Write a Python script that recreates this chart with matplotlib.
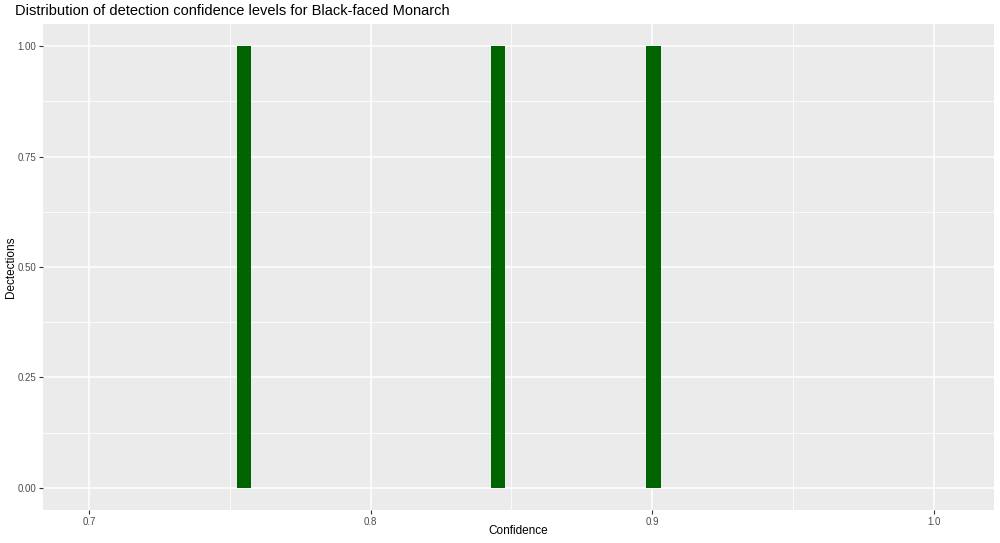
import numpy as np
import matplotlib
matplotlib.use("Agg")
import matplotlib.pyplot as plt
from matplotlib.ticker import MultipleLocator

# confidence values of the detections
confidence = [0.755, 0.845, 0.9005]

x_ticks = [0.7, 0.8, 0.9, 1.0]
y_ticks = [0.0, 0.25, 0.5, 0.75, 1.0]

plt.rcParams['font.family'] = ['Liberation Sans', 'DejaVu Sans']

fig = plt.figure(figsize=(10, 5.43), dpi=100)
ax = fig.add_axes([0.043, 0.0608, 0.951, 0.895])
ax.set_facecolor('#EBEBEB')

# ggplot-like default: 30 bins over data range
n_bins = 30
width = (max(confidence) - min(confidence)) / (n_bins - 1)
edges = np.arange(n_bins + 1) * width + min(confidence) - width / 2
ax.hist(confidence, bins=edges, color='#006400', zorder=3)

ax.set_xlim(0.6837, 1.0214)
ax.set_ylim(-0.05, 1.05)
ax.set_xticks(x_ticks)
ax.set_xticklabels(['0.7', '0.8', '0.9', '1.0'])
ax.set_yticks(y_ticks)
ax.set_yticklabels(['0.00', '0.25', '0.50', '0.75', '1.00'])
ax.xaxis.set_minor_locator(MultipleLocator(0.05))
ax.yaxis.set_minor_locator(MultipleLocator(0.125))

ax.grid(which='major', color='white', linewidth=1.1, zorder=0)
ax.grid(which='minor', color='white', linewidth=0.55, zorder=0)
ax.set_axisbelow(True)
for s in ax.spines.values():
    s.set_visible(False)
ax.tick_params(which='major', length=3, width=0.8, color='#333333',
               labelsize=7, labelcolor='#4D4D4D', pad=2)
ax.tick_params(which='minor', length=0)

fig.text(0.518, 1 - 531 / 543, 'Confidence', fontsize=8.5, ha='center', va='center')
fig.text(0.011, 1 - 267 / 543, 'Dectections', fontsize=8.5, ha='center', va='center',
         rotation=90)
fig.text(0.015, 0.98, 'Distribution of detection confidence levels for Black-faced Monarch',
         fontsize=10.5, ha='left', va='center')

fig.savefig('out.png', dpi=100)
